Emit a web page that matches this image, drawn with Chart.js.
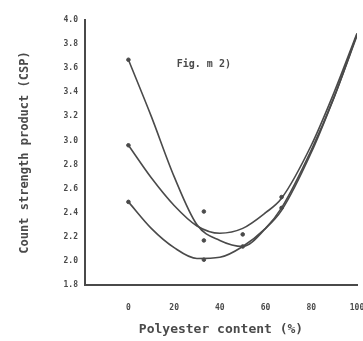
<!DOCTYPE html>
<html>
<head>
<meta charset="utf-8">
<script src="https://cdn.jsdelivr.net/npm/chart.js@4"></script>
<style>
  html, body { margin: 0; padding: 0; background: #fff; }
  #wrap { width: 363px; height: 341px; filter: blur(0.5px); }
</style>
</head>
<body>
<div id="wrap"><canvas id="myChart" width="363" height="341"></canvas></div>
<script>
// polyester content (%)
var xTicks = [0, 20, 40, 60, 80, 100];
var yTicks = [1.8, 2.0, 2.2, 2.4, 2.6, 2.8, 3.0, 3.2, 3.4, 3.6, 3.8, 4.0];

var curveX = [0, 10, 20, 30, 40, 50, 60, 67, 80, 90, 100];
var curveA = [3.67, 3.20, 2.70, 2.30, 2.17, 2.12, 2.27, 2.44, 2.92, 3.36, 3.88];
var curveB = [2.96, 2.69, 2.46, 2.29, 2.23, 2.27, 2.40, 2.52, 2.96, 3.40, 3.89];
var curveC = [2.49, 2.27, 2.11, 2.02, 2.03, 2.12, 2.27, 2.42, 2.90, 3.36, 3.87];

// observed points
var obsX = [0, 0, 0, 33, 33, 33, 50, 50, 67, 67];
var obsY = [3.67, 2.96, 2.49, 2.41, 2.17, 2.01, 2.12, 2.22, 2.53, 2.44];

var ink = '#4a4a4a';
var mono = '"DejaVu Sans Mono", monospace';

function pts(xs, ys) {
  return xs.map(function (x, i) { return { x: x, y: ys[i] }; });
}

function curve(values) {
  return {
    type: 'line',
    data: pts(curveX, values),
    borderColor: ink,
    borderWidth: 1.6,
    pointRadius: 0,
    cubicInterpolationMode: 'monotone',
    fill: false
  };
}

var figLabel = {
  id: 'figLabel',
  afterDatasetsDraw: function (chart) {
    var c = chart.ctx;
    var x = chart.scales.x.getPixelForValue(33);
    var y = chart.scales.y.getPixelForValue(3.63);
    c.save();
    c.fillStyle = ink;
    c.font = 'bold 10px ' + mono;
    c.textAlign = 'center';
    c.textBaseline = 'middle';
    c.fillText('Fig. m 2)', x, y);
    c.restore();
  }
};

var ctx = document.getElementById('myChart').getContext('2d');
var myChart = new Chart(ctx, {
  data: {
    datasets: [
      curve(curveA),
      curve(curveB),
      curve(curveC),
      {
        type: 'scatter',
        data: pts(obsX, obsY),
        pointRadius: 1.8,
        pointBackgroundColor: ink,
        pointBorderColor: ink
      }
    ]
  },
  options: {
    responsive: false,
    animation: false,
    layout: { padding: { top: 20, right: 0, left: 0, bottom: 0 } },
    plugins: { legend: { display: false }, tooltip: { enabled: false } },
    scales: {
      x: {
        type: 'linear',
        min: -19,
        max: 100,
        afterBuildTicks: function (axis) {
          axis.ticks = xTicks.map(function (v) { return { value: v }; });
        },
        grid: { display: false, drawTicks: true, tickLength: 8, color: ink },
        border: { color: ink, width: 2 },
        ticks: { color: ink, font: { family: mono, size: 8, weight: 'bold' }, padding: 10, maxRotation: 0 },
        title: {
          display: true,
          text: 'Polyester content (%)',
          color: ink,
          font: { family: mono, size: 13, weight: 'bold' },
          padding: { top: 4 }
        },
        afterFit: function (axis) {
          axis.height = 56;
          axis.paddingRight = 6;
        }
      },
      y: {
        type: 'linear',
        min: 1.8,
        max: 4.0,
        afterBuildTicks: function (axis) {
          axis.ticks = yTicks.map(function (v) { return { value: v }; });
        },
        grid: { display: false, drawTicks: true, tickLength: 4, color: ink },
        border: { color: ink, width: 2 },
        ticks: {
          color: ink,
          font: { family: mono, size: 8, weight: 'bold' },
          padding: 3,
          callback: function (v) { return v.toFixed(1); }
        },
        title: {
          display: true,
          text: 'Count strength product (CSP)',
          color: ink,
          font: { family: mono, size: 12, weight: 'bold' },
          padding: { top: 18, bottom: 0 }
        },
        afterFit: function (axis) { axis.width = 85; }
      }
    }
  },
  plugins: [figLabel]
});
</script>
</body>
</html>
